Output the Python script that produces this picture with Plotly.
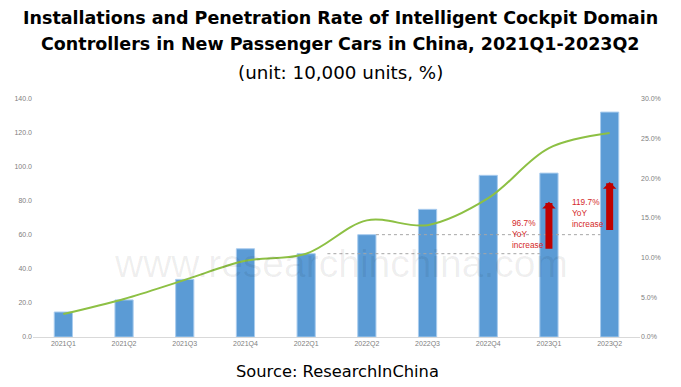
import plotly.graph_objects as go

quarters = ["2021Q1", "2021Q2", "2021Q3", "2021Q4", "2022Q1",
            "2022Q2", "2022Q3", "2022Q4", "2023Q1", "2023Q2"]
installations = [14.7, 21.8, 33.9, 51.9, 49.0, 60.2, 75.1, 95.1, 96.4, 132.3]
penetration = [0.029, 0.048, 0.072, 0.096, 0.105, 0.147, 0.141, 0.175, 0.238, 0.257]

left_ticks = [0, 20, 40, 60, 80, 100, 120, 140]
right_ticks = [0, 0.05, 0.10, 0.15, 0.20, 0.25, 0.30]

title_lines = ["Installations and Penetration Rate of Intelligent Cockpit Domain",
               "Controllers in New Passenger Cars in China, 2021Q1-2023Q2"]
subtitle = "(unit: 10,000 units, %)"
source = "Source: ResearchInChina"
yoy_labels = ["96.7%<br>YoY<br>increase", "119.7%<br>YoY<br>increase"]
watermark_url = "www.researchinchina.com"

BAR = "#5B9BD5"
LINE = "#8DC044"
RED = "#C00000"
TXT_RED = "#D42A2A"
TICK = "#808080"

# page body has an 8px margin: lay the figure out in window pixels minus that offset
OFF = 8
W, H = 681 - OFF, 387 - OFF
PL, PR, PT, PB = 33, 640, 99, 337          # plot area in window pixels
ml, mr, mt = PL - OFF, W - (PR - OFF), PT - OFF
mb = H - (PB - OFF)
pw, ph = PR - PL, PB - PT


def px_to_paper(x, y):
    return (x - PL) / pw, (PB - y) / ph


fig = go.Figure()
fig.add_trace(go.Bar(x=quarters, y=installations, width=0.3,
                     marker=dict(color=BAR, line=dict(color="#A9CCEE", width=1)),
                     yaxis="y", showlegend=False))
fig.add_trace(go.Scatter(x=quarters, y=penetration, mode="lines",
                         line=dict(color=LINE, width=2, shape="spline", smoothing=1.0),
                         yaxis="y2", showlegend=False))

# dashed reference lines at previous-year levels
fig.add_shape(type="line", xref="x", yref="y", x0=4.35, x1=7.85,
              y0=installations[4], y1=installations[4],
              line=dict(color="#A6A6A6", width=1, dash="3px,3px"))
fig.add_shape(type="line", xref="x", yref="y", x0=5.15, x1=8.85,
              y0=installations[5], y1=installations[5],
              line=dict(color="#A6A6A6", width=1, dash="3px,3px"))

annotations = []
wx, wy = px_to_paper(341, 263)
annotations.append(dict(x=wx, y=wy, xref="paper", yref="paper",
                        xanchor="center", yanchor="middle",
                        text=watermark_url, showarrow=False,
                        font=dict(family="Liberation Sans", size=39, color="rgba(0,0,0,0.065)")))
# arrows
annotations.append(dict(x=quarters[8], y=79.6, xref="x", yref="y",
                        ax=0, ay=51.0, axref="pixel", ayref="y", text="",
                        showarrow=True, arrowhead=1, arrowsize=0.32, arrowwidth=7,
                        arrowcolor=RED))
annotations.append(dict(x=quarters[9], y=91.2, xref="x", yref="y",
                        ax=0, ay=62.0, axref="pixel", ayref="y", text="",
                        showarrow=True, arrowhead=1, arrowsize=0.32, arrowwidth=7,
                        arrowcolor=RED))
annotations.append(dict(x=7.37, y=70.5, xref="x", yref="y", xanchor="left", yanchor="top",
                        text=yoy_labels[0], showarrow=False, align="left", borderpad=0,
                        font=dict(family="Liberation Sans", size=8.3, color=TXT_RED)))
annotations.append(dict(x=8.36, y=82.8, xref="x", yref="y", xanchor="left", yanchor="top",
                        text=yoy_labels[1], showarrow=False, align="left", borderpad=0,
                        font=dict(family="Liberation Sans", size=8.3, color=TXT_RED)))

texts = [
    ("<b>" + title_lines[0] + "</b>", 340, 18, 17.5),
    ("<b>" + title_lines[1] + "</b>", 340, 44, 17.5),
    (subtitle, 340, 73, 18.3),
    (source, 337, 371, 16.3),
]
for txt, x, y, size in texts:
    px, py = px_to_paper(x, y)
    annotations.append(dict(x=px, y=py, xref="paper", yref="paper",
                            text=txt, showarrow=False, xanchor="center", yanchor="middle",
                            font=dict(family="DejaVu Sans", size=size, color="black")))

fig.update_layout(
    width=W, height=H,
    margin=dict(l=ml, r=mr, t=mt, b=mb, autoexpand=False),
    paper_bgcolor="white", plot_bgcolor="white",
    xaxis=dict(type="category", showgrid=False, showline=True, linecolor="#D9D9D9",
               linewidth=1, ticks="", tickfont=dict(family="Liberation Sans", size=7, color=TICK)),
    yaxis=dict(range=[0, 140], tickvals=left_ticks, tickformat=".1f", showgrid=False,
               zeroline=False, showline=False, ticks="",
               tickfont=dict(family="Liberation Sans", size=7, color=TICK)),
    yaxis2=dict(range=[0, 0.30], tickvals=right_ticks, tickformat=".1%", overlaying="y",
                side="right", showgrid=False, zeroline=False, showline=False, ticks="",
                tickfont=dict(family="Liberation Sans", size=7, color=TICK)),
    annotations=annotations,
)
fig.write_html("out.html")
